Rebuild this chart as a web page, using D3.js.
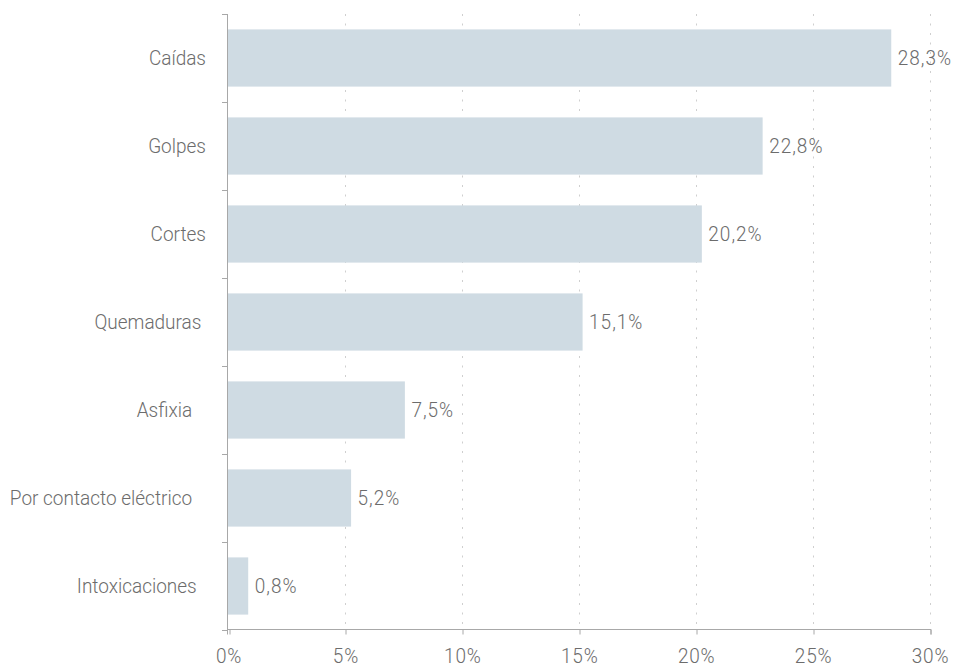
<!DOCTYPE html>
<html>
<head>
<meta charset="utf-8">
<script src="https://cdn.jsdelivr.net/npm/d3@7"></script>
<style>
  html, body { margin: 0; padding: 0; background: #fff; }
  svg { display: block; }
  text { font-family: Roboto, "Open Sans", sans-serif; font-weight: 300; fill: #6c6c6c; }
</style>
</head>
<body>
<svg id="chart" width="956" height="669"></svg>
<script>
// Injury types and their share of accidents (%)
const categories = ["Caídas", "Golpes", "Cortes", "Quemaduras", "Asfixia", "Por contacto eléctrico", "Intoxicaciones"];
const values = [28.3, 22.8, 20.2, 15.1, 7.5, 5.2, 0.8];
// Trailing spaces kept from the source labels
const labelSuffix = ["", "", "", " ", "   ", "   ", "  "];
const xTicks = [0, 5, 10, 15, 20, 25, 30];

const fmt = v => String(v.toFixed(1)).replace(".", ",") + "%";

const svg = d3.select("#chart");
const axisX = 228, yTop = 14, yBot = 630;
const textScaleY = 1.09; // slightly taller glyphs

const x = d3.scaleLinear().domain([0, 30]).range([229.5, 931]);
const y = d3.scaleBand().domain(categories).range([yTop, yBot])
  .paddingInner(0.35).paddingOuter(0.175);

// dotted vertical gridlines
svg.append("g").selectAll("line")
  .data(xTicks.filter(d => d > 0))
  .join("line")
  .attr("x1", d => Math.round(x(d)) - 0.5).attr("x2", d => Math.round(x(d)) - 0.5)
  .attr("y1", yTop).attr("y2", yBot)
  .attr("stroke", "#cfcfcf").attr("stroke-width", 1)
  .attr("stroke-dasharray", "2,7.5");

// bars
svg.append("g").selectAll("rect")
  .data(values)
  .join("rect")
  .attr("x", axisX)
  .attr("y", (d, i) => y(categories[i]))
  .attr("width", d => x(d) - axisX)
  .attr("height", y.bandwidth())
  .attr("fill", "#cfdbe3");

// value labels
svg.append("g").selectAll("text")
  .data(values)
  .join("text")
  .attr("transform", (d, i) =>
    `translate(${x(d) + 6.5},${y(categories[i]) + y.bandwidth() / 2 + 6.8}) scale(1,${textScaleY})`)
  .attr("font-size", 19)
  .attr("letter-spacing", 1)
  .text(d => fmt(d));

// category axis
const yAxisG = svg.append("g");
yAxisG.append("line")
  .attr("x1", axisX - 0.5).attr("x2", axisX - 0.5)
  .attr("y1", yTop).attr("y2", yBot)
  .attr("stroke", "#a8a8a8");
const boundaries = d3.range(categories.length + 1).map(i => yTop + i * y.step());
yAxisG.selectAll("line.tick")
  .data(boundaries)
  .join("line").attr("class", "tick")
  .attr("x1", axisX - 6).attr("x2", axisX)
  .attr("y1", d => Math.round(d) + 0.5).attr("y2", d => Math.round(d) + 0.5)
  .attr("stroke", "#a8a8a8");
yAxisG.selectAll("text")
  .data(categories)
  .join("text")
  .attr("transform", d => `translate(206,${y(d) + y.bandwidth() / 2 + 6.8}) scale(1,${textScaleY})`)
  .attr("text-anchor", "end")
  .attr("font-size", 19)
  .style("white-space", "pre")
  .text((d, i) => d + labelSuffix[i]);

// value axis
const xAxis = d3.axisBottom(x)
  .tickValues(xTicks)
  .tickSize(5)
  .tickFormat(d => d + "%");
const xg = svg.append("g")
  .attr("transform", `translate(0,${yBot - 0.5})`)
  .call(xAxis);
xg.select(".domain").attr("stroke", "#a8a8a8").attr("d", `M${axisX - 0.5},5V0H${Math.round(x(30))}V5`);
xg.selectAll(".tick line").attr("stroke", "#a8a8a8")
  .attr("transform", d => `translate(${Math.round(x(d)) - 0.5 - x(d)},0)`);
xg.selectAll(".tick text")
  .attr("y", 0)
  .attr("dy", null)
  .attr("transform", `translate(-1,33.5) scale(1,${textScaleY})`)
  .attr("font-size", 19)
  .attr("fill", "#6c6c6c")
  .attr("letter-spacing", 0.8)
  .style("font-family", "Roboto, sans-serif")
  .style("font-weight", 300);
</script>
</body>
</html>
